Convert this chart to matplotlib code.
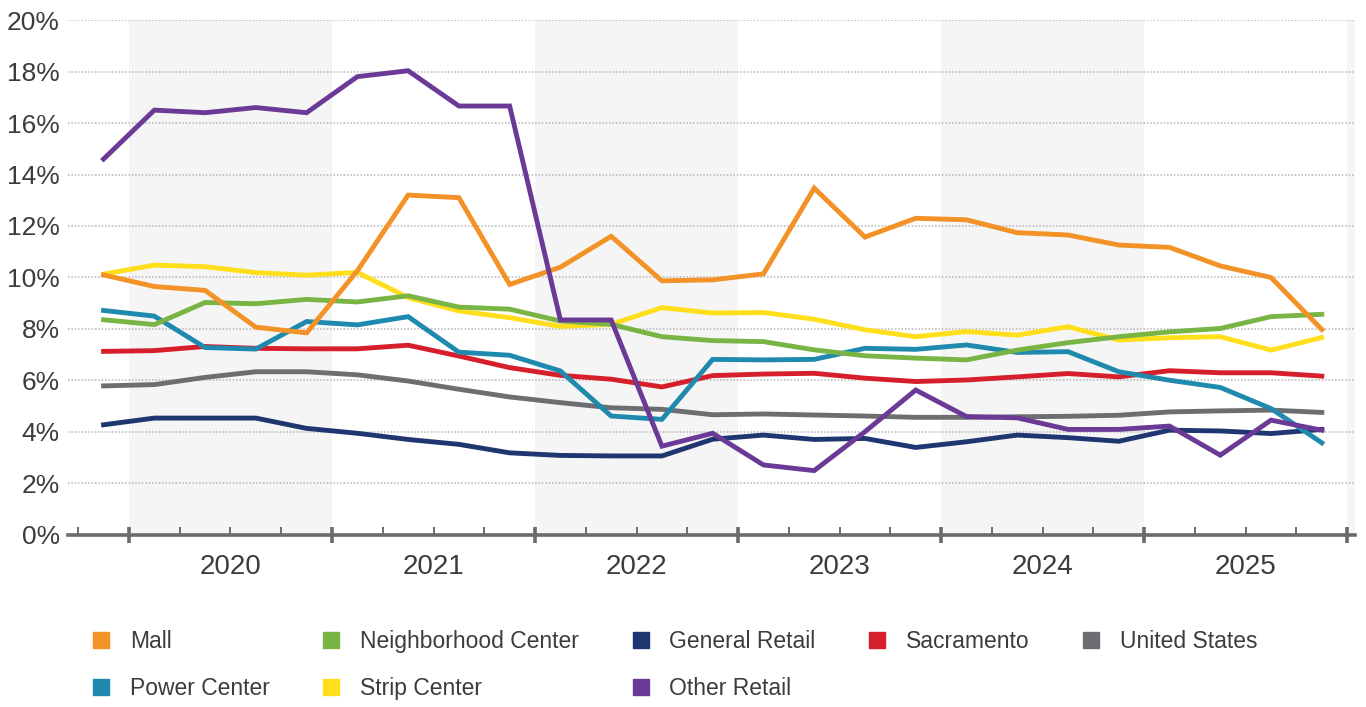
import matplotlib.pyplot as plt
from matplotlib.lines import Line2D
from matplotlib.transforms import blended_transform_factory

plt.rcParams['font.family'] = ['Liberation Sans', 'DejaVu Sans']

# quarterly vacancy, 2019 Q4 through 2025 Q4
years = [2020, 2021, 2022, 2023, 2024, 2025]
n_quarters = 25

mall = [10.1, 9.65, 9.5, 8.07, 7.85, 10.26, 13.2, 13.1, 9.73, 10.4, 11.6, 9.87, 9.91,
        10.14, 13.47, 11.57, 12.3, 12.24, 11.74, 11.65, 11.26, 11.17, 10.45, 10.0, 7.98]
neighborhood = [8.36, 8.17, 9.03, 8.98, 9.15, 9.05, 9.29, 8.85, 8.77, 8.31, 8.18, 7.7, 7.55,
                7.51, 7.19, 6.96, 6.87, 6.8, 7.18, 7.47, 7.7, 7.89, 8.02, 8.48, 8.57]
general = [4.28, 4.54, 4.54, 4.54, 4.14, 3.95, 3.71, 3.52, 3.19, 3.09, 3.07, 3.07, 3.72,
           3.88, 3.71, 3.75, 3.4, 3.62, 3.88, 3.78, 3.64, 4.07, 4.04, 3.94, 4.1]
sacramento = [7.13, 7.16, 7.32, 7.25, 7.23, 7.23, 7.37, 6.95, 6.5, 6.2, 6.05, 5.75, 6.19,
              6.25, 6.28, 6.09, 5.96, 6.02, 6.14, 6.27, 6.14, 6.38, 6.3, 6.3, 6.17]
united_states = [5.79, 5.84, 6.12, 6.34, 6.34, 6.22, 5.98, 5.66, 5.36, 5.14, 4.94, 4.88, 4.67,
                 4.7, 4.66, 4.62, 4.57, 4.57, 4.59, 4.61, 4.65, 4.78, 4.82, 4.85, 4.76]
power = [8.72, 8.5, 7.28, 7.22, 8.29, 8.16, 8.48, 7.1, 6.98, 6.37, 4.62, 4.49, 6.82,
         6.8, 6.82, 7.25, 7.21, 7.38, 7.09, 7.12, 6.34, 6.01, 5.73, 4.91, 3.58]
strip = [10.13, 10.48, 10.42, 10.19, 10.09, 10.2, 9.22, 8.7, 8.44, 8.1, 8.18, 8.83, 8.62,
         8.64, 8.38, 7.97, 7.7, 7.9, 7.76, 8.09, 7.57, 7.66, 7.7, 7.18, 7.67]
other = [14.6, 16.5, 16.4, 16.6, 16.4, 17.8, 18.03, 16.66, 16.66, 8.35, 8.35, 3.45, 3.95,
         2.72, 2.5, 4.01, 5.63, 4.6, 4.55, 4.1, 4.1, 4.23, 3.1, 4.46, 4.07]

series = {
    'United States': (united_states, '#6d6e71'),
    'Sacramento': (sacramento, '#d71f2b'),
    'General Retail': (general, '#1f3670'),
    'Power Center': (power, '#1f8aad'),
    'Strip Center': (strip, '#ffdf1b'),
    'Neighborhood Center': (neighborhood, '#79b545'),
    'Mall': (mall, '#f39226'),
    'Other Retail': (other, '#6b3a96'),
}
legend_order = ['Mall', 'Power Center', 'Neighborhood Center', 'Strip Center',
                'General Retail', 'Other Retail', 'Sacramento', 'United States']

fig = plt.figure(figsize=(13.66, 7.07), dpi=100)
ax = fig.add_axes([0.0498, 0.2433, 0.942, 0.7284])

x = list(range(n_quarters))

# alternate year bands
for k in range(0, len(years) + 1, 2):
    ax.axvspan(0.5 + 4 * k, 4.5 + 4 * k, color='#f5f5f5', lw=0, zorder=0)

for name, (vals, col) in series.items():
    ax.plot(x, vals, color=col, lw=3.5, solid_joinstyle='miter', zorder=3)

ax.set_xlim(-0.7, 24.65)
ax.set_ylim(0, 20)

ax.set_yticks(range(0, 21, 2))
ax.set_yticklabels([f'{v}%' for v in range(0, 21, 2)])
ax.tick_params(axis='y', length=0, pad=6, labelsize=19, labelcolor='#3c3c3c')
ax.yaxis.grid(True, linestyle=(0, (1, 1.2)), color='#b5b5b5', lw=1.1)
ax.set_axisbelow(True)

major = [0.5 + 4 * k for k in range(len(years) + 1)]
minor = [q + 0.5 for q in range(-1, n_quarters) if (q + 0.5) not in major]
ax.set_xticks(major)
ax.set_xticks(minor, minor=True)
ax.tick_params(axis='x', which='major', direction='inout', length=12, width=2.6,
               color='#6b6b6b', labelbottom=False)
ax.tick_params(axis='x', which='minor', direction='in', length=6, width=1.4,
               color='#6b6b6b', labelbottom=False)

for s in ['top', 'right', 'left']:
    ax.spines[s].set_visible(False)
ax.spines['bottom'].set_color('#6b6b6b')
ax.spines['bottom'].set_linewidth(2.6)

trans = blended_transform_factory(ax.transData, ax.transAxes)
for k, yr in enumerate(years):
    ax.text(2.5 + 4 * k, -0.062, str(yr), transform=trans, ha='center', va='center',
            fontsize=20, color='#3c3c3c')

handles = [Line2D([], [], ls='none', marker='s', markersize=11,
                  color=series[n][1]) for n in legend_order]
fig.legend(handles, legend_order, ncol=5, loc='upper left',
           bbox_to_anchor=(0.059, 0.125), frameon=False, fontsize=16.5,
           handlelength=0.8, handletextpad=0.86, columnspacing=2.28,
           labelspacing=1.05, labelcolor='#3c3c3c', borderpad=0)

fig.savefig('out.png', dpi=100)
